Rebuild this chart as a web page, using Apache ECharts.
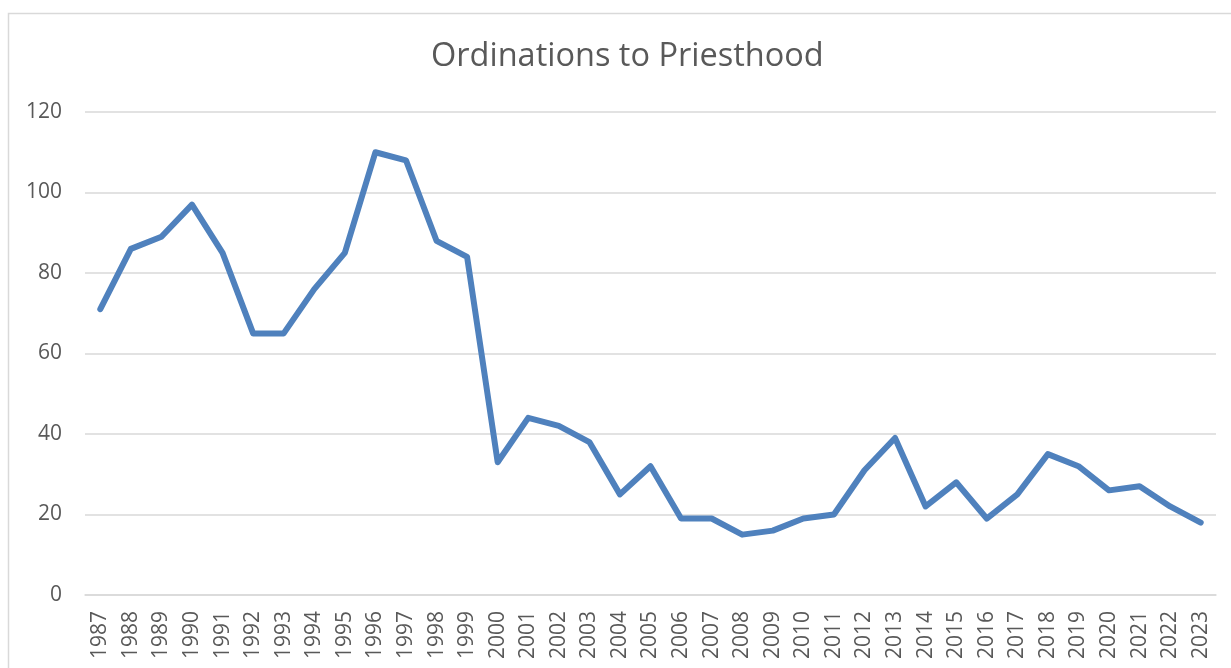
<!DOCTYPE html>
<html>
<head>
<meta charset="utf-8">
<script src="https://cdn.jsdelivr.net/npm/echarts@6/dist/echarts.min.js"></script>
<style>html,body{margin:0;padding:0;background:#fff;}#c{width:1231px;height:668px;}</style>
</head>
<body>
<div id="c"></div>
<script>
const years = ['1987','1988','1989','1990','1991','1992','1993','1994','1995','1996','1997','1998','1999','2000','2001','2002','2003','2004','2005','2006','2007','2008','2009','2010','2011','2012','2013','2014','2015','2016','2017','2018','2019','2020','2021','2022','2023'];
const ordinations = [71,86,89,97,85,65,65,76,85,110,108,88,84,33,44,42,38,25,32,19,19,15,16,19,20,31,39,22,28,19,25,35,32,26,27,22,18];
const chartTitle = 'Ordinations to Priesthood';

const chart = echarts.init(document.getElementById('c'));
chart.setOption({
  backgroundColor: '#fff',
  animation: false,
  textStyle: { fontFamily: 'Open Sans' },
  title: {
    text: chartTitle,
    left: 426,
    top: 35,
    textStyle: { fontFamily: 'Open Sans', fontSize: 32.5, fontWeight: 'normal', color: '#595959' }
  },
  graphic: [{
    type: 'rect',
    shape: { x: 8.5, y: 13.5, width: 1400, height: 1000 },
    style: { fill: 'none', stroke: '#d9d9d9', lineWidth: 1.5 },
    silent: true
  }],
  grid: { left: 85, right: 15, top: 112, bottom: 73 },
  xAxis: {
    type: 'category',
    data: years,
    boundaryGap: true,
    axisLine: { show: true, lineStyle: { color: '#d9d9d9', width: 1.5 } },
    axisTick: { show: false },
    axisLabel: { rotate: 90, interval: 0, fontSize: 21, color: '#595959', margin: 16, fontFamily: 'Open Sans' }
  },
  yAxis: {
    type: 'value',
    min: 0, max: 120, interval: 20,
    axisLine: { show: false },
    axisTick: { show: false },
    splitLine: { lineStyle: { color: '#d9d9d9', width: 1.5 } },
    axisLabel: { fontSize: 21, color: '#595959', margin: 23, fontFamily: 'Open Sans' }
  },
  series: [{
    type: 'line',
    data: ordinations,
    symbol: 'none',
    lineStyle: { color: '#4f81bd', width: 6, join: 'round', cap: 'round' }
  }]
});
</script>
</body>
</html>
